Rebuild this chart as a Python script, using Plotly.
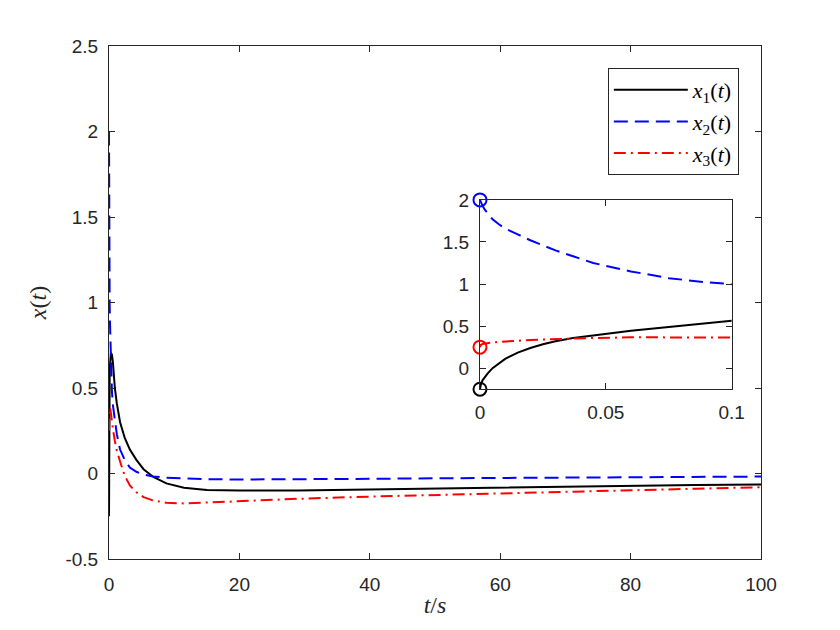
import plotly.graph_objects as go

# time samples (s)
t = [0, 0.0003, 0.001, 0.002, 0.003, 0.005, 0.0075, 0.01, 0.015, 0.02, 0.025, 0.03,
     0.037, 0.045, 0.06, 0.075, 0.09, 0.1,
     0.15, 0.2, 0.3, 0.45, 0.6, 0.9, 1.2, 1.7, 2.4, 3.2, 4.2, 5.3, 6.8, 8.8,
     11.5, 15, 20, 29, 40, 50, 60, 70, 80, 90, 100]

x1 = [-0.25, -0.2, -0.145, -0.105, -0.065, 0.0, 0.06, 0.11, 0.185, 0.24, 0.285, 0.32,
      0.358, 0.39, 0.445, 0.49, 0.535, 0.565,
      0.635, 0.675, 0.705, 0.695, 0.65, 0.5, 0.41, 0.3, 0.21, 0.14, 0.08, 0.025,
      -0.02, -0.058, -0.083, -0.096, -0.1, -0.1, -0.094, -0.087, -0.08, -0.075,
      -0.07, -0.067, -0.064]

x2 = [2.0, 1.97, 1.93, 1.88, 1.84, 1.77, 1.71, 1.66, 1.59, 1.52, 1.46, 1.4,
      1.33, 1.25, 1.15, 1.07, 1.02, 0.99,
      0.88, 0.78, 0.62, 0.48, 0.4, 0.3, 0.23, 0.14, 0.08, 0.035, 0.01, -0.006,
      -0.017, -0.025, -0.03, -0.033, -0.035, -0.035, -0.031, -0.028, -0.026,
      -0.024, -0.022, -0.02, -0.018]

x3 = [0.25, 0.275, 0.288, 0.294, 0.298, 0.305, 0.312, 0.318, 0.327, 0.334, 0.34, 0.345,
      0.352, 0.358, 0.366, 0.371, 0.375, 0.377,
      0.385, 0.38, 0.35, 0.3, 0.26, 0.19, 0.135, 0.07, -0.012, -0.07, -0.11, -0.138,
      -0.158, -0.171, -0.175, -0.17, -0.161, -0.148, -0.135, -0.125, -0.115,
      -0.106, -0.097, -0.089, -0.08]

names = ["<i>x</i><sub>1</sub>(<i>t</i>)", "<i>x</i><sub>2</sub>(<i>t</i>)",
         "<i>x</i><sub>3</sub>(<i>t</i>)"]
colors = ["#000000", "#0000ff", "#ff0000"]
dashes = ["solid", "14px,7px", "12px,5px,2px,5px"]
series = [x1, x2, x3]

main_x_ticks = [0, 20, 40, 60, 80, 100]
main_y_ticks = [-0.5, 0, 0.5, 1, 1.5, 2, 2.5]
inset_x_ticks = [0, 0.05, 0.1]
inset_y_ticks = [0, 0.5, 1, 1.5, 2]

fig = go.Figure()
for ys, n, c, d in zip(series, names, colors, dashes):
    fig.add_trace(go.Scatter(x=t, y=ys, mode="lines", name=n,
                             line=dict(color=c, width=2, dash=d),
                             xaxis="x", yaxis="y"))
for ys, n, c, d in zip(series, names, colors, dashes):
    fig.add_trace(go.Scatter(x=t, y=ys, mode="lines", name=n, showlegend=False,
                             line=dict(color=c, width=2, dash=d),
                             xaxis="x2", yaxis="y2"))
    fig.add_trace(go.Scatter(x=[t[0]], y=[ys[0]], mode="markers", showlegend=False,
                             marker=dict(symbol="circle-open", size=13, color=c,
                                         line=dict(color=c, width=2)),
                             xaxis="x2", yaxis="y2", cliponaxis=False))

axcol = "#262626"
tickfont = dict(family="Liberation Sans, Arial, sans-serif", size=19, color=axcol)
common = dict(showgrid=False, zeroline=False, showline=True, linecolor=axcol,
              linewidth=1, mirror="ticks", ticks="inside", ticklen=6,
              tickcolor=axcol, tickfont=tickfont)

fig.update_layout(
    width=840, height=630,
    margin=dict(l=109, r=79, t=46, b=71),
    paper_bgcolor="white", plot_bgcolor="white",
    xaxis=dict(domain=[0, 1], range=[0, 100], tickvals=main_x_ticks,
               ticklabelstandoff=8,
               title=dict(text="<i>t</i>/<i>s</i>", standoff=2,
                          font=dict(family="Liberation Serif, serif", size=24, color=axcol)),
               **common),
    yaxis=dict(domain=[0, 1], range=[-0.5, 2.5], tickvals=main_y_ticks,
               ticktext=["-0.5", "0", "0.5", "1", "1.5", "2", "2.5"],
               ticklabelstandoff=6,
               title=dict(text="<i>x</i>(<i>t</i>)", standoff=12,
                          font=dict(family="Liberation Serif, serif", size=24, color=axcol)),
               **common),
    xaxis2=dict(domain=[0.569, 0.955], range=[0, 0.1], tickvals=inset_x_ticks,
                ticktext=["0", "0.05", "0.1"], anchor="y2", ticklabelstandoff=6,
                **common),
    yaxis2=dict(domain=[0.331, 0.700], range=[-0.25, 2], tickvals=inset_y_ticks,
                ticktext=["0", "0.5", "1", "1.5", "2"], anchor="x2",
                ticklabelstandoff=6, **common),
    legend=dict(x=0.966, y=0.957, xanchor="right", yanchor="top",
                bgcolor="white", bordercolor=axcol, borderwidth=1,
                itemwidth=74,
                font=dict(family="Liberation Serif, serif", size=22, color="#000000")),
    showlegend=True,
)

fig.write_html("out.html")
